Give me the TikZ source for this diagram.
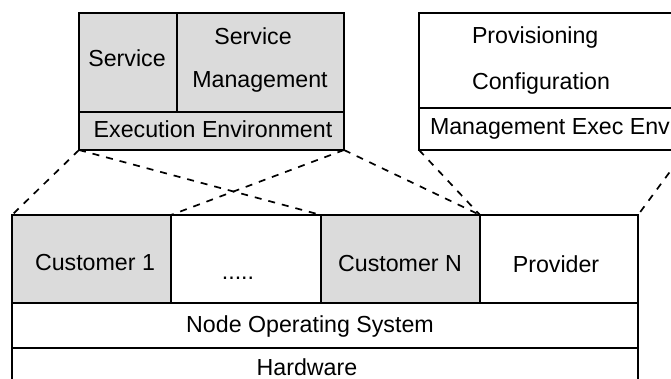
\documentclass[tikz,border=0pt]{standalone}
\usepackage{fontspec}
\setmainfont{Liberation Sans}
\definecolor{stipple}{gray}{0.86}
\tikzset{
  cellbox/.style={draw=black, line width=1.6pt, inner sep=0pt, outer sep=0pt,
                  anchor=north west},
  shaded/.style={fill=stipple},
  lbl/.style={inner sep=0pt, outer sep=0pt, font=\fontsize{23.2}{27}\selectfont},
  mapline/.style={draw=black, line width=1.7pt, dash pattern=on 7pt off 7pt},
}
\begin{document}
\begin{tikzpicture}[x=1pt, y=-1pt]
  \useasboundingbox (0,0) rectangle (671,379);
  \clip (0,0) rectangle (671,379);

  % customer execution node: services on top of an execution environment
  \node[cellbox, shaded, minimum width=98pt,  minimum height=99pt] (svc)     at (79,13)  {};
  \node[cellbox, shaded, minimum width=167pt, minimum height=99pt] (svcmgmt) at (177,13) {};
  \node[cellbox, shaded, minimum width=265pt, minimum height=38pt] (execenv) at (79,112) {};

  % provider management stack
  \node[cellbox, minimum width=267pt, minimum height=95pt] (prov) at (419,13)  {};
  \node[cellbox, minimum width=267pt, minimum height=42pt] (mee)  at (419,108) {};

  % node layers
  \node[cellbox, shaded, minimum width=159pt, minimum height=88pt] (cust1)    at (12,215)  {};
  \node[cellbox,         minimum width=150pt, minimum height=88pt] (others)   at (171,215) {};
  \node[cellbox, shaded, minimum width=159pt, minimum height=88pt] (custn)    at (321,215) {};
  \node[cellbox,         minimum width=158pt, minimum height=88pt] (provider) at (480,215) {};
  \node[cellbox, minimum width=626pt, minimum height=45pt] (nodeos) at (12,303) {};
  \node[cellbox, minimum width=626pt, minimum height=60pt] (hw)     at (12,348) {};

  % labels
  \node[lbl, anchor=base] at (127,67)  {Service};
  \node[lbl, anchor=base] at (253,45)  {Service};
  \node[lbl, anchor=base] at (260,88)  {Management};
  \node[lbl, anchor=base] at (213,138) {Execution Environment};
  \node[lbl, anchor=base west] at (472,44)  {Provisioning};
  \node[lbl, anchor=base west] at (472,90)  {Configuration};
  \node[lbl, anchor=base west] at (430,135) {Management Exec Env};
  \node[lbl, anchor=base] at (95,270)  {Customer 1};
  \node[lbl, anchor=base] at (238,279) {.....};
  \node[lbl, anchor=base] at (400,271) {Customer N};
  \node[lbl, anchor=base] at (556,272) {Provider};
  \node[lbl, anchor=base] at (310,332) {Node Operating System};
  \node[lbl, anchor=base] at (307,375) {Hardware};

  % mapping of the upper stacks onto the node slots
  \draw[mapline] (execenv.south west) -- (cust1.north west);
  \draw[mapline] (execenv.south east) -- (cust1.north east);
  \draw[mapline] (execenv.south west) -- (custn.north west);
  \draw[mapline] (execenv.south east) -- (custn.north east);
  \draw[mapline] (mee.south west) -- (provider.north west);
  \draw[mapline] (mee.south east) -- (provider.north east);
\end{tikzpicture}
\end{document}
